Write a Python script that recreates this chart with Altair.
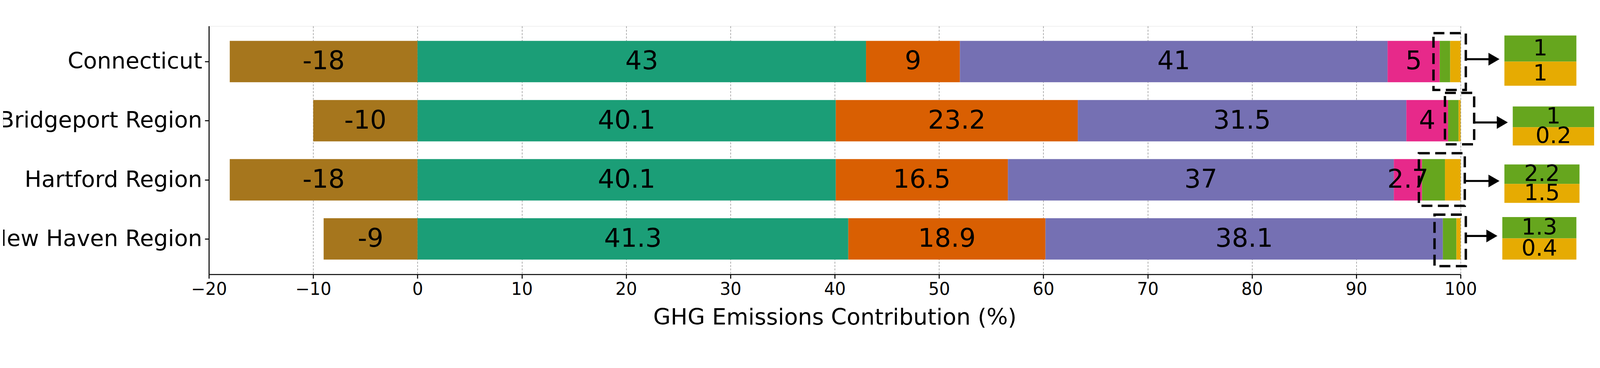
import pandas as pd
import altair as alt

regions = ["Connecticut", "Bridgeport Region", "Hartford Region", "New Haven Region"]
row_pos = [3, 2, 1, 0]
sectors = ["Sink", "S1", "S2", "S3", "S4", "S5", "S6"]
colors = ["#a6761d", "#1b9e77", "#d95f02", "#7570b3", "#e7298a", "#66a61e", "#e6ab02"]
sink = [-18, -10, -18, -9]
s1 = [43, 40.1, 40.1, 41.3]
s2 = [9, 23.2, 16.5, 18.9]
s3 = [41, 31.5, 37, 38.1]
s4 = [5, 4, 2.7, 0]
s5 = [1, 1, 2.2, 1.3]
s6 = [1, 0.2, 1.5, 0.4]
label_text = [
    ["-18", "43", "9", "41", "5"],
    ["-10", "40.1", "23.2", "31.5", "4"],
    ["-18", "40.1", "16.5", "37", "2.7"],
    ["-9", "41.3", "18.9", "38.1", ""],
]
# zoom boxes and insets
box_x = [97.4, 98.5, 96.0, 97.5]
box_x2 = [100.5, 101.3, 100.4, 100.5]
box_y = [2.52, 1.60, 0.56, -0.46]
box_y2 = [3.48, 2.47, 1.45, 0.41]
arrow_y = [3.04, 1.97, 0.98, 0.05]
inset_x = [104.2, 105.0, 104.2, 104.0]
inset_x2 = [111.1, 112.8, 111.4, 111.1]
inset_top = [3.44, 2.24, 1.26, 0.37]
inset_mid = [3.0, 1.89, 0.93, 0.01]
inset_bot = [2.59, 1.58, 0.61, -0.35]

rows = []
for i, r in enumerate(regions):
    vals = [s1[i], s2[i], s3[i], s4[i], s5[i], s6[i]]
    rows.append(dict(region=r, pos=row_pos[i], sector="Sink", start=sink[i], end=0,
                     label=label_text[i][0]))
    acc = 0
    for j, v in enumerate(vals):
        lab = label_text[i][j + 1] if j < 4 else ""
        rows.append(dict(region=r, pos=row_pos[i], sector=sectors[j + 1], start=acc,
                         end=acc + v, label=lab))
        acc += v
bars = pd.DataFrame(rows)
bars["lo"] = bars["pos"] - 0.35
bars["hi"] = bars["pos"] + 0.35
bars["mid"] = (bars["start"] + bars["end"]) / 2

col = alt.Color("sector:N", scale=alt.Scale(domain=sectors, range=colors), legend=None)
xs = alt.Scale(domain=[-20, 100], nice=False, zero=False)
ys = alt.Scale(domain=[-0.6, 3.6], nice=False, zero=False)

label_expr = ("datum.value == 3 ? 'Connecticut' : datum.value == 2 ? 'Bridgeport Region' : "
              "datum.value == 1 ? 'Hartford Region' : datum.value == 0 ? 'New Haven Region' : ''")

base = alt.Chart(bars)
bar = base.mark_rect().encode(
    x=alt.X("start:Q", scale=xs, title="GHG Emissions Contribution (%)",
            axis=alt.Axis(values=list(range(-20, 101, 10)), grid=True, gridDash=[6, 4],
                          gridColor="#888", gridWidth=1.5, labelFontSize=50, titleFontSize=66,
                          titleFontWeight="normal", titlePadding=25, tickSize=12, tickWidth=3,
                          domainWidth=3, domainColor="black", labelColor="black",
                          tickColor="black", titleColor="black", labelPadding=8,
                          labelFlush=False)),
    x2="end:Q",
    y=alt.Y("lo:Q", scale=ys, title=None,
            axis=alt.Axis(values=[0, 1, 2, 3], labelExpr=label_expr, grid=False,
                          labelFontSize=66, tickSize=12, tickWidth=3, domainWidth=3,
                          domainColor="black", labelColor="black", tickColor="black",
                          labelPadding=8, labelLimit=0)),
    y2="hi:Q",
    color=col,
)
text = base.transform_filter("datum.label != ''").mark_text(fontSize=76, color="black").encode(
    x="mid:Q", y="pos:Q", text="label:N")

ov = pd.DataFrame(dict(region=regions, bx=box_x, bx2=box_x2, by=box_y, by2=box_y2,
                       ay=arrow_y, ix=inset_x, ix2=inset_x2, it=inset_top, im=inset_mid,
                       ib=inset_bot, v5=[str(v) for v in s5], v6=[str(v) for v in s6]))
ov["icx"] = (ov["ix"] + ov["ix2"]) / 2
ov["g_y"] = (ov["it"] + ov["im"]) / 2
ov["o_y"] = (ov["im"] + ov["ib"]) / 2
ov["head_x"] = ov["ix"] - 1.0
ob = alt.Chart(ov)
boxes = ob.mark_rect(fill=None, stroke="black", strokeWidth=7, strokeDash=[32, 16],
                     clip=False).encode(x="bx:Q", x2="bx2:Q", y="by:Q", y2="by2:Q")
arrows = ob.mark_rule(strokeWidth=6, color="black", clip=False).encode(
    x="bx2:Q", x2="head_x:Q", y="ay:Q")
heads = ob.mark_point(shape="triangle-right", filled=True, color="black", size=1400,
                      opacity=1, clip=False).encode(x="head_x:Q", y="ay:Q")
green = ob.mark_rect(color="#66a61e", clip=False).encode(x="ix:Q", x2="ix2:Q", y="im:Q", y2="it:Q")
gold = ob.mark_rect(color="#e6ab02", clip=False).encode(x="ix:Q", x2="ix2:Q", y="ib:Q", y2="im:Q")
t5 = ob.mark_text(fontSize=66, color="black", clip=False).encode(x="icx:Q", y="g_y:Q", text="v5:N")
t6 = ob.mark_text(fontSize=66, color="black", clip=False).encode(x="icx:Q", y="o_y:Q", text="v6:N")

chart = alt.layer(bar, text, boxes, arrows, heads, green, gold, t5, t6).properties(
    width=3674, height=728,
    autosize=alt.AutoSizeParams(type="none"),
    padding={"left": 604, "top": 0, "right": 400, "bottom": 190},
).configure_view(stroke="black", strokeWidth=3).configure(font="DejaVu Sans")

chart.save("out.html", embed_options={"renderer": "svg", "actions": False})
